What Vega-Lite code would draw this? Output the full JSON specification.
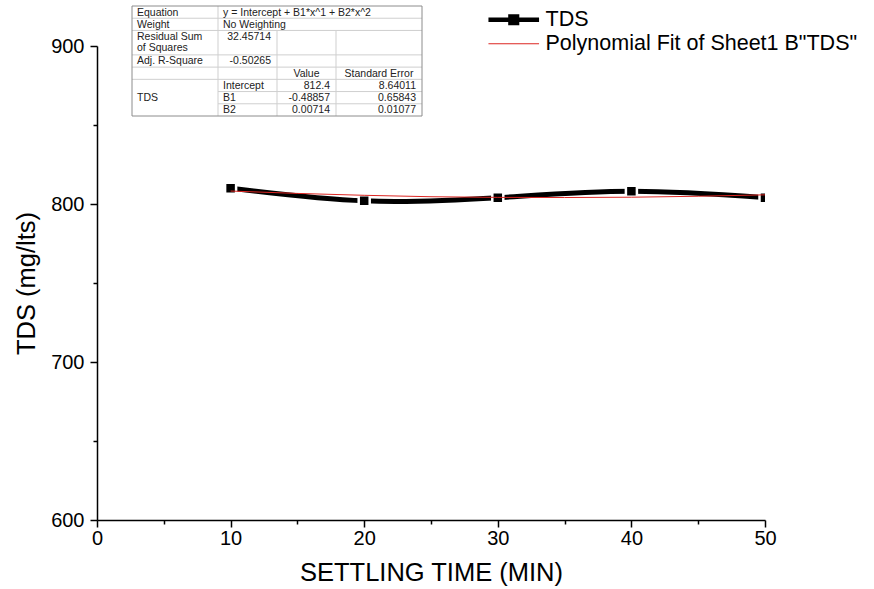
{
  "$schema": "https://vega.github.io/schema/vega-lite/v6.json",
  "width": 668,
  "height": 474,
  "autosize": {"type": "none"},
  "padding": {"left": 97, "top": 46, "right": 109, "bottom": 69},
  "background": "white",
  "config": {
    "view": {"stroke": null},
    "font": "Liberation Sans",
    "axis": {
      "grid": false,
      "domainColor": "black",
      "tickColor": "black",
      "labelColor": "black",
      "titleColor": "black",
      "domainWidth": 1.5,
      "tickWidth": 1.5,
      "labelFont": "Liberation Sans",
      "titleFont": "Liberation Sans",
      "labelFontSize": 20,
      "titleFontSize": 25.5,
      "titleFontWeight": "normal",
      "labelFlush": false
    }
  },
  "datasets": {
    "series": [
      {"time": 10, "tds": 810, "series": "TDS"},
      {"time": 20, "tds": 802, "series": "TDS"},
      {"time": 30, "tds": 804, "series": "TDS"},
      {"time": 40, "tds": 808, "series": "TDS"},
      {"time": 50, "tds": 804, "series": "TDS"},
      {"time": 10, "tds": 808.2, "series": "Polynomial Fit of Sheet1 B\"TDS\""},
      {"time": 15, "tds": 806.7, "series": "Polynomial Fit of Sheet1 B\"TDS\""},
      {"time": 20, "tds": 805.5, "series": "Polynomial Fit of Sheet1 B\"TDS\""},
      {"time": 25, "tds": 804.6, "series": "Polynomial Fit of Sheet1 B\"TDS\""},
      {"time": 30, "tds": 804.2, "series": "Polynomial Fit of Sheet1 B\"TDS\""},
      {"time": 35, "tds": 804.1, "series": "Polynomial Fit of Sheet1 B\"TDS\""},
      {"time": 40, "tds": 804.3, "series": "Polynomial Fit of Sheet1 B\"TDS\""},
      {"time": 45, "tds": 804.9, "series": "Polynomial Fit of Sheet1 B\"TDS\""},
      {"time": 50, "tds": 805.8, "series": "Polynomial Fit of Sheet1 B\"TDS\""}
    ],
    "cells": [
      {"col": 0, "row": 0, "text": "Equation", "kind": "label"},
      {"col": 1, "row": 0, "text": "y = Intercept + B1*x^1 + B2*x^2", "kind": "label"},
      {"col": 0, "row": 1, "text": "Weight", "kind": "label"},
      {"col": 1, "row": 1, "text": "No Weighting", "kind": "label"},
      {"col": 0, "row": 2, "text": ["Residual Sum", "of Squares"], "kind": "label"},
      {"col": 0, "row": 4, "text": "Adj. R-Square", "kind": "label"},
      {"col": 1, "row": 6, "text": "Intercept", "kind": "label"},
      {"col": 0, "row": 7, "text": "TDS", "kind": "label"},
      {"col": 1, "row": 7, "text": "B1", "kind": "label"},
      {"col": 1, "row": 8, "text": "B2", "kind": "label"},
      {"col": 1, "row": 2, "text": "32.45714", "kind": "number"},
      {"col": 1, "row": 4, "text": "-0.50265", "kind": "number"},
      {"col": 2, "row": 6, "text": "812.4", "kind": "number"},
      {"col": 3, "row": 6, "text": "8.64011", "kind": "number"},
      {"col": 2, "row": 7, "text": "-0.48857", "kind": "number"},
      {"col": 3, "row": 7, "text": "0.65843", "kind": "number"},
      {"col": 2, "row": 8, "text": "0.00714", "kind": "number"},
      {"col": 3, "row": 8, "text": "0.01077", "kind": "number"},
      {"col": 2, "row": 5, "text": "Value", "kind": "header"},
      {"col": 3, "row": 5, "text": "Standard Error", "kind": "header"}
    ],
    "grid": [
      {"c1": 0, "c2": 4, "r1": 0, "r2": 0, "kind": "outer"},
      {"c1": 0, "c2": 4, "r1": 9, "r2": 9, "kind": "outer"},
      {"c1": 0, "c2": 0, "r1": 0, "r2": 9, "kind": "outer"},
      {"c1": 4, "c2": 4, "r1": 0, "r2": 9, "kind": "outer"},
      {"c1": 0, "c2": 4, "r1": 1, "r2": 1, "kind": "inner"},
      {"c1": 0, "c2": 4, "r1": 2, "r2": 2, "kind": "inner"},
      {"c1": 0, "c2": 4, "r1": 4, "r2": 4, "kind": "inner"},
      {"c1": 0, "c2": 4, "r1": 5, "r2": 5, "kind": "inner"},
      {"c1": 0, "c2": 4, "r1": 6, "r2": 6, "kind": "inner"},
      {"c1": 1, "c2": 4, "r1": 7, "r2": 7, "kind": "inner"},
      {"c1": 1, "c2": 4, "r1": 8, "r2": 8, "kind": "inner"},
      {"c1": 1, "c2": 1, "r1": 0, "r2": 9, "kind": "inner"},
      {"c1": 2, "c2": 2, "r1": 2, "r2": 9, "kind": "inner"},
      {"c1": 3, "c2": 3, "r1": 2, "r2": 9, "kind": "inner"}
    ]
  },
  "layer": [
    {
      "data": {"name": "series"},
      "transform": [{"filter": "datum.series === 'TDS'"}],
      "mark": {"type": "line", "strokeWidth": 5, "strokeCap": "round", "interpolate": "natural", "clip": true},
      "encoding": {
        "x": {
          "field": "time", "type": "quantitative",
          "scale": {"domain": [0, 50], "nice": false, "zero": false},
          "axis": {"orient": "bottom", "values": [0, 10, 20, 30, 40, 50], "title": "SETTLING TIME (MIN)", "tickSize": 7, "labelPadding": 1, "titlePadding": 12}
        },
        "y": {
          "field": "tds", "type": "quantitative",
          "scale": {"domain": [600, 900], "nice": false, "zero": false},
          "axis": {"orient": "left", "values": [600, 700, 800, 900], "title": "TDS (mg/lts)", "tickSize": 7, "labelPadding": 6, "titlePadding": 11}
        },
        "color": {
          "field": "series", "type": "nominal",
          "scale": {"domain": ["TDS", "Polynomial Fit of Sheet1 B\"TDS\""], "range": ["#000000", "#dc2622"]},
          "legend": {
            "orient": "none", "legendX": 406, "legendY": -37, "title": null, "padding": 0,
            "labelFontSize": 21.5, "labelFont": "Liberation Sans", "labelColor": "black", "labelLimit": 0,
            "symbolSize": 121, "labelOffset": 21, "rowPadding": -2,
            "symbolType": "M-4.6,0H4.6", "symbolStrokeWidth": 1,
            "encode": {
              "symbols": {
                "update": {
                  "shape": {"signal": "datum.value === 'TDS' ? 'M-4.6,0H4.6M-0.6,-0.6H0.6V0.6H-0.6Z' : 'M-4.6,0H4.6'"},
                  "strokeWidth": {"signal": "datum.value === 'TDS' ? 4.5 : 1.2"},
                  "stroke": {"signal": "datum.value === 'TDS' ? '#000000' : '#dc2622'"},
                  "fill": {"signal": "datum.value === 'TDS' ? '#000000' : 'transparent'"},
                  "opacity": {"value": 1}
                }
              }
            }
          }
        }
      }
    },
    {
      "data": {"name": "series"},
      "transform": [{"filter": "datum.series === 'TDS'"}],
      "mark": {"type": "point", "shape": "square", "filled": true, "size": 121, "fill": "black", "stroke": "white", "strokeWidth": 2.5, "opacity": 1, "clip": true},
      "encoding": {
        "x": {"field": "time", "type": "quantitative", "scale": {"domain": [0, 50], "nice": false, "zero": false}, "axis": null},
        "y": {"field": "tds", "type": "quantitative", "scale": {"domain": [600, 900], "nice": false, "zero": false}, "axis": null}
      }
    },
    {
      "data": {"name": "series"},
      "transform": [{"filter": "datum.series !== 'TDS'"}],
      "mark": {"type": "line", "strokeWidth": 1, "clip": true},
      "encoding": {
        "x": {
          "field": "time", "type": "quantitative",
          "scale": {"domain": [0, 50], "nice": false, "zero": false},
          "axis": {"orient": "bottom", "values": [5, 15, 25, 35, 45], "labels": false, "domain": false, "tickSize": 4, "title": null}
        },
        "y": {
          "field": "tds", "type": "quantitative",
          "scale": {"domain": [600, 900], "nice": false, "zero": false},
          "axis": {"orient": "left", "values": [650, 750, 850], "labels": false, "domain": false, "tickSize": 4, "title": null}
        },
        "color": {"field": "series", "type": "nominal"}
      }
    },
    {
      "data": {"name": "grid"},
      "transform": [{"filter": "datum.kind === 'inner'"}],
      "mark": {"type": "rule", "color": "#cfcfcf", "strokeWidth": 1},
      "encoding": {
        "x": {"field": "c1", "type": "quantitative", "scale": {"domain": [0, 1, 2, 3, 4], "range": [35, 121, 180, 239, 325], "nice": false, "zero": false}, "axis": null},
        "x2": {"field": "c2"},
        "y": {"field": "r1", "type": "quantitative", "scale": {"domain": [0, 9], "range": [-40, 70], "nice": false, "zero": false}, "axis": null},
        "y2": {"field": "r2"}
      }
    },
    {
      "data": {"name": "grid"},
      "transform": [{"filter": "datum.kind === 'outer'"}],
      "mark": {"type": "rule", "color": "#8c8c8c", "strokeWidth": 1},
      "encoding": {
        "x": {"field": "c1", "type": "quantitative", "scale": {"domain": [0, 1, 2, 3, 4], "range": [35, 121, 180, 239, 325], "nice": false, "zero": false}, "axis": null},
        "x2": {"field": "c2"},
        "y": {"field": "r1", "type": "quantitative", "scale": {"domain": [0, 9], "range": [-40, 70], "nice": false, "zero": false}, "axis": null},
        "y2": {"field": "r2"}
      }
    },
    {
      "data": {"name": "cells"},
      "transform": [{"filter": "datum.kind === 'label'"}],
      "mark": {"type": "text", "align": "left", "baseline": "top", "dx": 5, "dy": 1.5, "fontSize": 10.5, "lineHeight": 11, "color": "#222222", "font": "Liberation Sans"},
      "encoding": {
        "x": {"field": "col", "type": "quantitative", "scale": {"domain": [0, 1, 2, 3, 4], "range": [35, 121, 180, 239, 325], "nice": false, "zero": false}, "axis": null},
        "y": {"field": "row", "type": "quantitative", "scale": {"domain": [0, 9], "range": [-40, 70], "nice": false, "zero": false}, "axis": null},
        "text": {"field": "text"}
      }
    },
    {
      "data": {"name": "cells"},
      "transform": [{"filter": "datum.kind === 'number'"}],
      "mark": {"type": "text", "align": "right", "baseline": "top", "dx": -6, "dy": 1.5, "fontSize": 10.5, "color": "#222222", "font": "Liberation Sans"},
      "encoding": {
        "x": {"field": "col", "type": "quantitative", "scale": {"domain": [0, 1, 2, 3], "range": [121, 180, 239, 325], "nice": false, "zero": false}, "axis": null},
        "y": {"field": "row", "type": "quantitative", "scale": {"domain": [0, 9], "range": [-40, 70], "nice": false, "zero": false}, "axis": null},
        "text": {"field": "text"}
      }
    },
    {
      "data": {"name": "cells"},
      "transform": [{"filter": "datum.kind === 'header'"}],
      "mark": {"type": "text", "align": "center", "baseline": "top", "dy": 1.5, "fontSize": 10.5, "color": "#222222", "font": "Liberation Sans"},
      "encoding": {
        "x": {"field": "col", "type": "quantitative", "scale": {"domain": [0, 1, 2, 3], "range": [78, 150.5, 209.5, 282], "nice": false, "zero": false}, "axis": null},
        "y": {"field": "row", "type": "quantitative", "scale": {"domain": [0, 9], "range": [-40, 70], "nice": false, "zero": false}, "axis": null},
        "text": {"field": "text"}
      }
    }
  ],
  "resolve": {
    "scale": {"x": "independent", "y": "independent"},
    "axis": {"x": "independent", "y": "independent"}
  }
}
